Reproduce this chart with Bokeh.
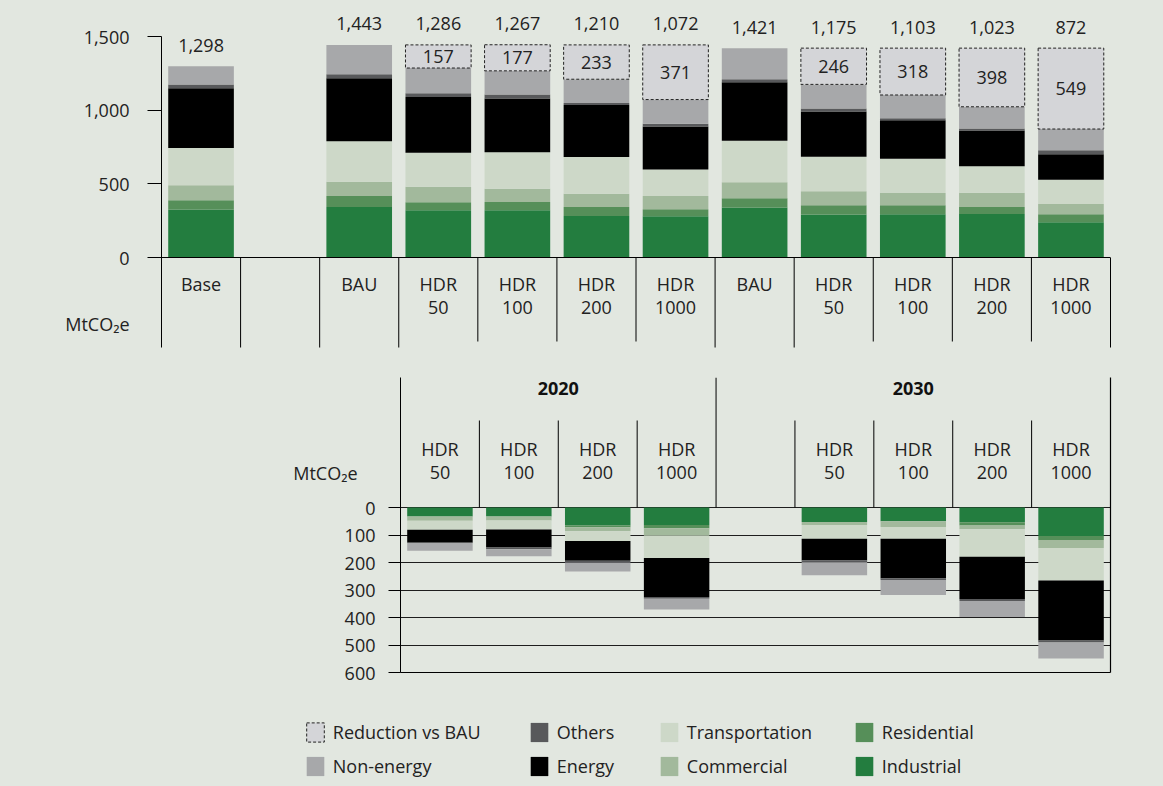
from bokeh.plotting import figure
from bokeh.models import (Range1d, FixedTicker, NumeralTickFormatter, Legend,
                          LegendItem, LinearAxis, ColumnDataSource, Spacer)
from bokeh.layouts import column, row
from bokeh.embed import file_html
from bokeh.resources import INLINE
from bokeh.core.properties import value

FONT = "Open Sans"
FS = "18px"
TXT = "#222222"
BG = "#E2E7E0"
BGSTYLE = {"background-color": BG}

# ---------------- data ----------------
sectors = ["Industrial", "Residential", "Commercial", "Transportation", "Energy", "Others", "Non-energy"]
sector_colors = ["#237D3F", "#568F59", "#A2B99C", "#CDD8C8", "#000000", "#58595B", "#A7A8AA"]
reduction_color = "#D4D5D8"
unit_label = "MtCO₂e"

slot_line1 = ["Base", "", "BAU", "HDR", "HDR", "HDR", "HDR", "BAU", "HDR", "HDR", "HDR", "HDR"]
slot_line2 = ["", "", "", "50", "100", "200", "1000", "", "50", "100", "200", "1000"]

industrial = [326, 0, 342, 320, 321, 281, 280, 340, 292, 293, 295, 239]
residential = [62, 0, 76, 55, 55, 62, 48, 62, 62, 62, 48, 55]
commercial = [103, 0, 96, 105, 90, 90, 90, 109, 96, 82, 97, 69]
transportation = [253, 0, 275, 231, 248, 249, 179, 281, 233, 233, 180, 165]
energy = [404, 0, 427, 379, 365, 353, 292, 397, 308, 261, 242, 172]
others = [27, 0, 28, 25, 28, 14, 18, 21, 21, 14, 14, 28]
non_energy = [123, 0, 199, 171, 160, 161, 165, 211, 163, 158, 147, 144]
reduction_vs_bau = [0, 0, 0, 157, 177, 233, 371, 0, 246, 318, 398, 549]
top_ticks = [0, 500, 1000, 1500]

# reductions by sector (lower chart), slots 3..11
cut_slots = [3, 4, 5, 6, 7, 8, 9, 10, 11]
cut_line1 = ["HDR", "HDR", "HDR", "HDR", "", "HDR", "HDR", "HDR", "HDR"]
cut_line2 = ["50", "100", "200", "1000", "", "50", "100", "200", "1000"]
cut_industrial = [33, 33, 65, 64, 0, 53, 50, 54, 104]
cut_residential = [0, 0, 7, 11, 0, 0, 0, 11, 14]
cut_commercial = [15, 14, 14, 28, 0, 11, 21, 14, 29]
cut_transportation = [33, 33, 36, 81, 0, 50, 43, 100, 118]
cut_energy = [47, 65, 72, 141, 0, 78, 143, 154, 219]
cut_others = [0, 7, 7, 7, 0, 7, 7, 7, 7]
cut_non_energy = [29, 25, 32, 39, 0, 47, 54, 58, 58]
bottom_ticks = [0, 100, 200, 300, 400, 500, 600]

group_labels = ["2020", "2030"]
group_spans = [(3, 7), (7, 12)]

legend_columns = [["Reduction vs BAU", "Non-energy"], ["Others", "Energy"],
                  ["Transportation", "Commercial"], ["Residential", "Industrial"]]

# ---------------- layout constants (pixels) ----------------
W = 1163
BORDER_L = 161
BORDER_R = 53
BAR_W = 0.83
N = len(slot_line1)

T_ZERO = 257
T_PPU = 221 / 1500
T_TOP, T_BOT = 12, 352
T_H = 354


def ty(py):
    return (T_ZERO - py) / T_PPU


top = figure(width=W, height=T_H, x_range=Range1d(0, 12),
             y_range=Range1d(ty(T_BOT), ty(T_TOP)),
             x_axis_location=None, y_axis_location="left",
             toolbar_location=None, output_backend="svg",
             min_border_left=BORDER_L, min_border_right=BORDER_R,
             min_border_top=T_TOP, min_border_bottom=T_H - T_BOT, styles=BGSTYLE)
top.background_fill_color = BG
top.border_fill_color = BG
top.outline_line_color = None
top.grid.visible = False

# unit caption sits in the tick-label column, below the zero tick
t_unit_pos = round(ty(323))
ya = top.yaxis[0]
ya.ticker = FixedTicker(ticks=top_ticks + [t_unit_pos], minor_ticks=top_ticks)
ya.formatter = NumeralTickFormatter(format="0,0")
ya.major_label_overrides = {t_unit_pos: unit_label}
ya.bounds = (ty(347), 1500)
ya.major_tick_out = 14
ya.major_tick_in = 0
ya.major_tick_line_color = None
ya.minor_tick_out = 14
ya.minor_tick_in = 0
ya.minor_tick_line_color = "black"
ya.axis_line_color = "black"
ya.major_label_standoff = 18
ya.major_label_text_font = FONT
ya.major_label_text_font_size = FS
ya.major_label_text_color = TXT

ra = LinearAxis(ticker=FixedTicker(ticks=[]), bounds=(ty(347), 0), axis_line_color="black",
                major_tick_line_color=None, minor_tick_line_color=None, major_label_text_color=None)
top.add_layout(ra, "right")

xs = [i + 0.5 for i in range(N)]
totals = [sum(v) for v in zip(industrial, residential, commercial, transportation, energy, others, non_energy)]

src = ColumnDataSource(dict(x=xs, Industrial=industrial, Residential=residential, Commercial=commercial,
                            Transportation=transportation, Energy=energy, Others=others,
                            **{"Non-energy": non_energy}))
top.vbar_stack(sectors, x="x", width=BAR_W, source=src, fill_color=sector_colors, line_color=None)

top.segment(x0=[0], y0=[0], x1=[12], y1=[0], line_color="black", line_width=1)

rx = [xs[i] for i in range(N) if reduction_vs_bau[i] > 0]
rb = [totals[i] for i in range(N) if reduction_vs_bau[i] > 0]
rr = [reduction_vs_bau[i] for i in range(N) if reduction_vs_bau[i] > 0]
rsrc = ColumnDataSource(dict(x=rx, bottom=rb, top=[b + r for b, r in zip(rb, rr)],
                             mid=[b + r / 2 for b, r in zip(rb, rr)], lab=[str(r) for r in rr]))
top.vbar(x="x", bottom="bottom", top="top", width=BAR_W, source=rsrc, fill_color=reduction_color,
         line_color="#222222", line_dash="3 2", line_width=1)
top.text(x="x", y="mid", text="lab", source=rsrc, text_align="center", text_baseline="middle",
         text_font=value(FONT), text_font_size=FS, text_color=TXT)

tx = [xs[i] for i in range(N) if totals[i] > 0]
tt = [totals[i] + reduction_vs_bau[i] for i in range(N) if totals[i] > 0]
tl = [f"{totals[i]:,}" for i in range(N) if totals[i] > 0]
top.text(x=tx, y=tt, text=tl, y_offset=-21, text_align="center", text_baseline="middle",
         text_font=value(FONT), text_font_size=FS, text_color=TXT)

long_b = [1, 2, 3, 7, 8]
short_b = [4, 5, 6, 9, 10, 11]
top.segment(x0=long_b, y0=[0] * len(long_b), x1=long_b, y1=[ty(347)] * len(long_b), line_color="black", line_width=1)
top.segment(x0=short_b, y0=[0] * len(short_b), x1=short_b, y1=[ty(341)] * len(short_b), line_color="black", line_width=1)
top.text(x=xs, y=[ty(283)] * N, text=slot_line1, text_align="center", text_baseline="middle",
         text_font=value(FONT), text_font_size=FS, text_color=TXT)
top.text(x=xs, y=[ty(307)] * N, text=slot_line2, text_align="center", text_baseline="middle",
         text_font=value(FONT), text_font_size=FS, text_color=TXT)

# ---------------- bottom chart ----------------
B_Y0 = T_H
B_LEFT = 400
B_SHIFT = B_LEFT - BORDER_L
B_W = W - B_SHIFT
B_ZERO = 507
B_PPU = 165 / 600
B_TOP, B_BOT = 377, 672
B_H = 332


def by(py):
    return (py - B_ZERO) / B_PPU


bot = figure(width=B_W, height=B_H, x_range=Range1d(3, 12), y_range=Range1d(600, by(B_TOP)),
             x_axis_location=None, y_axis_location="left",
             toolbar_location=None, output_backend="svg",
             min_border_left=BORDER_L, min_border_right=BORDER_R,
             min_border_top=B_TOP - B_Y0, min_border_bottom=B_Y0 + B_H - B_BOT, styles=BGSTYLE)
bot.background_fill_color = BG
bot.border_fill_color = BG
bot.outline_line_color = None
bot.xgrid.visible = False
bot.ygrid.ticker = FixedTicker(ticks=bottom_ticks)
bot.ygrid.grid_line_color = "#1E1E1E"
bot.ygrid.grid_line_width = 1.2

b_unit_pos = round(by(472))
ba = bot.yaxis[0]
ba.ticker = FixedTicker(ticks=bottom_ticks + [b_unit_pos], minor_ticks=bottom_ticks)
ba.major_label_overrides = {b_unit_pos: unit_label + "\u2002\u2002"}
ba.major_tick_out = 12
ba.major_tick_in = 0
ba.major_tick_line_color = None
ba.minor_tick_out = 12
ba.minor_tick_in = 0
ba.minor_tick_line_color = "black"
ba.axis_line_color = "black"
ba.major_label_standoff = 13
ba.major_label_text_font = FONT
ba.major_label_text_font_size = FS
ba.major_label_text_color = TXT

for side in ("right", "below"):
    ax = LinearAxis(ticker=FixedTicker(ticks=[]), axis_line_color="black", axis_line_width=1.2,
                    major_tick_line_color=None, minor_tick_line_color=None, major_label_text_color=None)
    bot.add_layout(ax, side)

cxs = [s + 0.5 for s in cut_slots]
csrc = ColumnDataSource(dict(x=cxs, Industrial=cut_industrial, Residential=cut_residential,
                             Commercial=cut_commercial, Transportation=cut_transportation,
                             Energy=cut_energy, Others=cut_others, **{"Non-energy": cut_non_energy}))
bot.vbar_stack(sectors, x="x", width=BAR_W, source=csrc, fill_color=sector_colors, line_color=None)

sub_b = [4, 5, 6, 8, 9, 10, 11]
bot.segment(x0=sub_b, y0=[0] * len(sub_b), x1=sub_b, y1=[by(420)] * len(sub_b), line_color="black", line_width=1)
bot.segment(x0=[7], y0=[0], x1=[7], y1=[by(B_TOP)], line_color="black", line_width=1)
bot.text(x=[(a + b) / 2 for a, b in group_spans], y=[by(388)] * 2, text=group_labels,
         text_align="center", text_baseline="middle", text_font=value(FONT), text_font_size=FS,
         text_font_style="bold", text_color="#111111")
bot.text(x=cxs, y=[by(448)] * len(cxs), text=cut_line1, text_align="center",
         text_baseline="middle", text_font=value(FONT), text_font_size=FS, text_color=TXT)
bot.text(x=cxs, y=[by(472)] * len(cxs), text=cut_line2, text_align="center",
         text_baseline="middle", text_font=value(FONT), text_font_size=FS, text_color=TXT)

# ---------------- legend ----------------
L_Y0 = B_Y0 + B_H
L_H = 786 - L_Y0
leg = figure(width=W, height=L_H, x_range=Range1d(0, 1), y_range=Range1d(0, 1),
             x_axis_location=None, y_axis_location=None, toolbar_location=None, output_backend="svg",
             min_border_left=BORDER_L, min_border_right=BORDER_R, min_border_top=0, min_border_bottom=0,
             styles=BGSTYLE)
leg.background_fill_color = BG
leg.border_fill_color = BG
leg.outline_line_color = None
leg.grid.visible = False

style = {name: dict(fill_color=c, line_color=None) for name, c in zip(sectors, sector_colors)}
style["Reduction vs BAU"] = dict(fill_color=reduction_color, line_color="#222222", line_dash="3 2", line_width=1)
proxy = {}
for name, st in style.items():
    # zero-size, off-range proxy glyph used only for the legend swatch
    proxy[name] = leg.vbar(x=[-1], bottom=[0], top=[0], width=0, **st)

legend_x = [306, 530, 660, 855]
GW, GH = 22, 24
ROW1, ROW2 = 732, 766
for col, gx in zip(legend_columns, legend_x):
    lg = Legend(items=[LegendItem(label=n, renderers=[proxy[n]]) for n in col],
                location=(gx - 2.2 - BORDER_L, L_Y0 + L_H - (ROW2 + GH / 2)), orientation="vertical",
                glyph_width=GW, glyph_height=GH, label_height=GH, spacing=ROW2 - ROW1 - GH,
                padding=0, margin=0,
                border_line_color=None, background_fill_alpha=0, label_standoff=7,
                label_text_font=FONT, label_text_font_size=FS, label_text_color=TXT)
    leg.add_layout(lg)

p = column(top,
           row(Spacer(width=B_SHIFT, height=B_H, styles=BGSTYLE), bot, spacing=0, styles=BGSTYLE),
           leg, spacing=0, styles=BGSTYLE)
open("out.html", "w").write(file_html(p, INLINE))
